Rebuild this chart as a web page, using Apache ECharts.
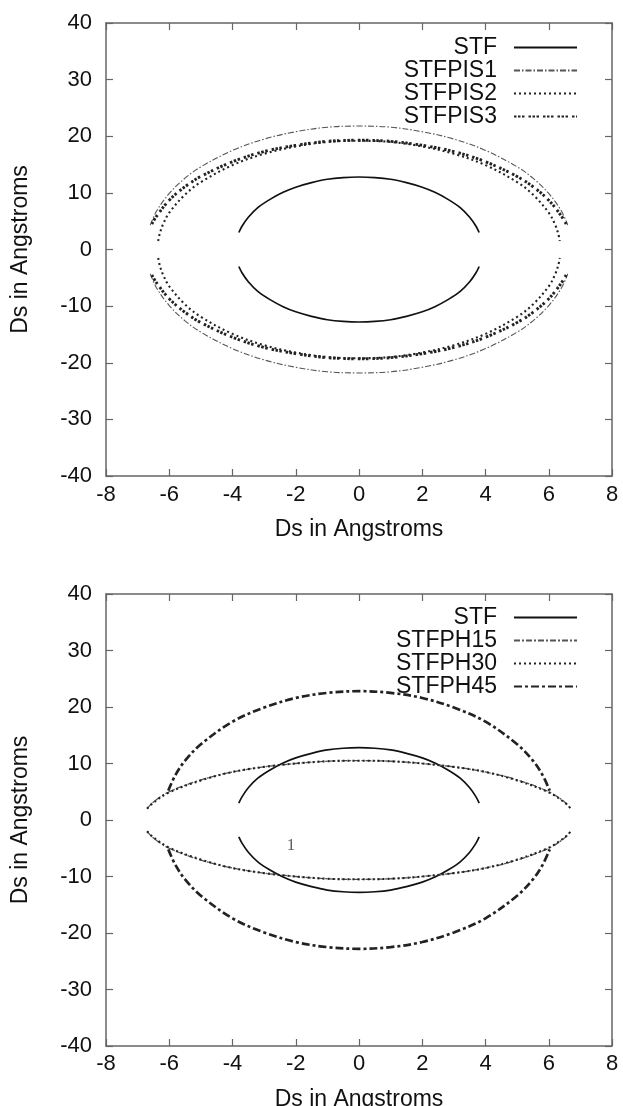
<!DOCTYPE html>
<html>
<head>
<meta charset="utf-8">
<script src="https://cdn.jsdelivr.net/npm/echarts@6/dist/echarts.min.js"></script>
<style>
html,body{margin:0;padding:0;background:#fff;}
#chart{width:623px;height:1106px;}
</style>
</head>
<body>
<div id="chart"></div>
<script>
// ---- data ----
const xTicks = [-8, -6, -4, -2, 0, 2, 4, 6, 8];
const yTicks = [-40, -30, -20, -10, 0, 10, 20, 30, 40];
const axisTitle = 'Ds in Angstroms';

const stfUpper = [[-3.8,3.0],[-3.7,4.1],[-3.5,5.7],[-3.2,7.4],[-2.8,8.9],[-2.4,10.1],[-2.0,11.0],[-1.5,11.8],[-1.0,12.4],[-0.5,12.7],[0,12.8],[0.5,12.7],[1.0,12.4],[1.5,11.8],[2.0,11.0],[2.4,10.1],[2.8,8.9],[3.2,7.4],[3.5,5.7],[3.7,4.1],[3.8,3.0]];
const stfLower = [[-3.8,-3.0],[-3.7,-4.1],[-3.5,-5.7],[-3.2,-7.4],[-2.8,-8.9],[-2.4,-10.1],[-2.0,-11.0],[-1.5,-11.8],[-1.0,-12.4],[-0.5,-12.7],[0,-12.8],[0.5,-12.7],[1.0,-12.4],[1.5,-11.8],[2.0,-11.0],[2.4,-10.1],[2.8,-8.9],[3.2,-7.4],[3.5,-5.7],[3.7,-4.1],[3.8,-3.0]];

const pis1Upper = [[-6.6,4.3],[-6.4,6.8],[-6.0,9.9],[-5.5,12.6],[-5.0,14.6],[-4.0,17.5],[-3.0,19.5],[-2.0,20.8],[-1.0,21.6],[0,21.8],[1.0,21.6],[2.0,20.8],[3.0,19.5],[4.0,17.5],[5.0,14.6],[5.5,12.6],[6.0,9.9],[6.4,6.8],[6.6,4.3]];
const pis1Lower = [[-6.6,-4.3],[-6.4,-6.8],[-6.0,-9.9],[-5.5,-12.6],[-5.0,-14.6],[-4.0,-17.5],[-3.0,-19.5],[-2.0,-20.8],[-1.0,-21.6],[0,-21.8],[1.0,-21.6],[2.0,-20.8],[3.0,-19.5],[4.0,-17.5],[5.0,-14.6],[5.5,-12.6],[6.0,-9.9],[6.4,-6.8],[6.6,-4.3]];

const pis2Upper = [[-6.35,1.5],[-6.3,2.8],[-6.2,4.4],[-6.0,6.5],[-5.5,9.7],[-5.0,11.9],[-4.0,14.9],[-3.0,16.9],[-2.0,18.2],[-1.0,19.0],[0,19.2],[1.0,19.0],[2.0,18.2],[3.0,16.9],[4.0,14.9],[5.0,11.9],[5.5,9.7],[6.0,6.5],[6.2,4.4],[6.3,2.8],[6.35,1.5]];
const pis2Lower = [[-6.35,-1.5],[-6.3,-2.8],[-6.2,-4.4],[-6.0,-6.5],[-5.5,-9.7],[-5.0,-11.9],[-4.0,-14.9],[-3.0,-16.9],[-2.0,-18.2],[-1.0,-19.0],[0,-19.2],[1.0,-19.0],[2.0,-18.2],[3.0,-16.9],[4.0,-14.9],[5.0,-11.9],[5.5,-9.7],[6.0,-6.5],[6.2,-4.4],[6.3,-2.8],[6.35,-1.5]];

const pis3Upper = [[-6.55,4.5],[-6.4,5.9],[-6.0,8.7],[-5.5,11.1],[-5.0,12.9],[-4.0,15.5],[-3.0,17.3],[-2.0,18.4],[-1.0,19.1],[0,19.3],[1.0,19.1],[2.0,18.4],[3.0,17.3],[4.0,15.5],[5.0,12.9],[5.5,11.1],[6.0,8.7],[6.4,5.9],[6.55,4.5]];
const pis3Lower = [[-6.55,-4.5],[-6.4,-5.9],[-6.0,-8.7],[-5.5,-11.1],[-5.0,-12.9],[-4.0,-15.5],[-3.0,-17.3],[-2.0,-18.4],[-1.0,-19.1],[0,-19.3],[1.0,-19.1],[2.0,-18.4],[3.0,-17.3],[4.0,-15.5],[5.0,-12.9],[5.5,-11.1],[6.0,-8.7],[6.4,-5.9],[6.55,-4.5]];

const ph15Upper = [[-6.7,2.0],[-6.5,3.2],[-6.0,5.0],[-5.0,7.1],[-4.0,8.5],[-3.0,9.4],[-2.0,10.0],[-1.0,10.4],[0,10.5],[1.0,10.4],[2.0,10.0],[3.0,9.4],[4.0,8.5],[5.0,7.1],[6.0,5.0],[6.5,3.2],[6.7,2.0]];
const ph15Lower = [[-6.7,-2.0],[-6.5,-3.2],[-6.0,-5.0],[-5.0,-7.1],[-4.0,-8.5],[-3.0,-9.4],[-2.0,-10.0],[-1.0,-10.4],[0,-10.5],[1.0,-10.4],[2.0,-10.0],[3.0,-9.4],[4.0,-8.5],[5.0,-7.1],[6.0,-5.0],[6.5,-3.2],[6.7,-2.0]];

const ph30Upper = [[-6.7,2.0],[-6.5,3.1],[-6.0,4.9],[-5.0,7.0],[-4.0,8.5],[-3.0,9.4],[-2.0,10.0],[-1.0,10.4],[0,10.5],[1.0,10.4],[2.0,10.0],[3.0,9.4],[4.0,8.5],[5.0,7.0],[6.0,4.9],[6.5,3.1],[6.7,2.0]];
const ph30Lower = [[-6.7,-2.0],[-6.5,-3.1],[-6.0,-4.9],[-5.0,-7.0],[-4.0,-8.5],[-3.0,-9.4],[-2.0,-10.0],[-1.0,-10.4],[0,-10.5],[1.0,-10.4],[2.0,-10.0],[3.0,-9.4],[4.0,-8.5],[5.0,-7.0],[6.0,-4.9],[6.5,-3.1],[6.7,-2.0]];

const ph45Upper = [[-6.03,5.2],[-5.8,8.0],[-5.5,10.5],[-5.0,13.4],[-4.0,17.4],[-3.0,19.9],[-2.0,21.6],[-1.0,22.5],[0,22.8],[1.0,22.5],[2.0,21.6],[3.0,19.9],[4.0,17.4],[5.0,13.4],[5.5,10.5],[5.8,8.0],[6.03,5.2]];
const ph45Lower = [[-6.03,-5.2],[-5.8,-8.0],[-5.5,-10.5],[-5.0,-13.4],[-4.0,-17.4],[-3.0,-19.9],[-2.0,-21.6],[-1.0,-22.5],[0,-22.8],[1.0,-22.5],[2.0,-21.6],[3.0,-19.9],[4.0,-17.4],[5.0,-13.4],[5.5,-10.5],[5.8,-8.0],[6.03,-5.2]];

const annotation = [[-2.15, -4.6]];
const annotationText = '1';

// ---- styles ----
const FONT = 'Liberation Sans, Arial, Helvetica, sans-serif';
const FS = 22;      // tick labels
const FS_T = 23;    // axis titles
const FS_L = 23;    // legend
const styles = {
  'STF':     {color:'#111', width:1.7, type:'solid'},
  'STFPIS1': {color:'#555', width:1.1, type:[6,2,1.5,2]},
  'STFPIS2': {color:'#222', width:2.1, type:[2,3]},
  'STFPIS3': {color:'#222', width:2.9, type:[2.5,1.5,2.5,1.5,2.5,4]},
  'STFPH15': {color:'#555', width:1.3, type:[6,2,2,2]},
  'STFPH30': {color:'#222', width:2.1, type:[2,3]},
  'STFPH45': {color:'#222', width:2.7, type:[8,3,3,3]}
};

function line(name, data, gi) {
  const s = styles[name];
  return {
    type:'line', name:name, data:data, xAxisIndex:gi*2, yAxisIndex:gi*2,
    smooth:0.35, symbol:'none', showSymbol:false, silent:true, animation:false,
    lineStyle:{color:s.color, width:s.width, type:s.type},
    itemStyle:{color:s.color}
  };
}

const grids = [
  {left:106, top:23, width:506, height:453, outerBoundsMode:'none', containLabel:false},
  {left:106, top:594, width:506, height:452, outerBoundsMode:'none', containLabel:false}
];
const labelMargins = [8, 7];
const titleGaps = [42, 42];

const xAxes = [], yAxes = [];
grids.forEach((g, i) => {
  const base = {
    type:'value', gridIndex:i, min:xTicks[0], max:xTicks[xTicks.length-1], interval:2,
    axisLine:{show:true, onZero:false, lineStyle:{color:'#666', width:1.5}},
    axisTick:{show:true, inside:true, length:7, lineStyle:{color:'#666', width:1.2}},
    splitLine:{show:false}
  };
  xAxes.push(Object.assign({}, base, {
    position:'bottom',
    axisLabel:{show:true, color:'#111', fontSize:FS, fontFamily:FONT, margin:labelMargins[i],
      formatter:v => String(v)},
    name:axisTitle, nameLocation:'middle', nameGap:titleGaps[i],
    nameTextStyle:{color:'#111', fontSize:FS_T, fontFamily:FONT}
  }));
  xAxes.push(Object.assign({}, base, {position:'top', axisLabel:{show:false}}));
  const ybase = {
    type:'value', gridIndex:i, min:yTicks[0], max:yTicks[yTicks.length-1], interval:10,
    axisLine:{show:true, onZero:false, lineStyle:{color:'#666', width:1.5}},
    axisTick:{show:true, inside:true, length:7, lineStyle:{color:'#666', width:1.2}},
    splitLine:{show:false}
  };
  yAxes.push(Object.assign({}, ybase, {
    position:'left',
    axisLabel:{show:true, color:'#111', fontSize:FS, fontFamily:FONT, margin:14,
      formatter:v => String(v)},
    name:axisTitle, nameLocation:'middle', nameGap:74,
    nameTextStyle:{color:'#111', fontSize:FS_T, fontFamily:FONT}
  }));
  yAxes.push(Object.assign({}, ybase, {position:'right', axisLabel:{show:false}}));
});

const series = [
  line('STF', stfUpper, 0), line('STF', stfLower, 0),
  line('STFPIS1', pis1Upper, 0), line('STFPIS1', pis1Lower, 0),
  line('STFPIS2', pis2Upper, 0), line('STFPIS2', pis2Lower, 0),
  line('STFPIS3', pis3Upper, 0), line('STFPIS3', pis3Lower, 0),
  line('STF', stfUpper, 1), line('STF', stfLower, 1),
  line('STFPH15', ph15Upper, 1), line('STFPH15', ph15Lower, 1),
  line('STFPH30', ph30Upper, 1), line('STFPH30', ph30Lower, 1),
  line('STFPH45', ph45Upper, 1), line('STFPH45', ph45Lower, 1),
  {
    type:'scatter', xAxisIndex:2, yAxisIndex:2, data:annotation, symbolSize:1,
    itemStyle:{color:'rgba(0,0,0,0)'}, silent:true, animation:false,
    label:{show:true, position:'inside', formatter:annotationText, color:'#333',
      fontFamily:'Liberation Serif, DejaVu Serif, serif', fontSize:17}
  }
];

function legend(names, top) {
  return {
    data:names, orient:'vertical', right:40, top:top, align:'right',
    itemWidth:63, itemHeight:14, itemGap:0, selectedMode:false,
    itemStyle:{opacity:0, borderWidth:0},
    textStyle:{color:'#111', fontSize:FS_L, fontFamily:FONT, lineHeight:22, padding:[0,12,0,0]},
    inactiveColor:'#111'
  };
}

const chart = echarts.init(document.getElementById('chart'), null, {renderer:'canvas'});
chart.setOption({
  backgroundColor:'#fff',
  animation:false,
  grid:grids,
  xAxis:xAxes,
  yAxis:yAxes,
  legend:[
    legend(['STF','STFPIS1','STFPIS2','STFPIS3'], 31),
    legend(['STF','STFPH15','STFPH30','STFPH45'], 601)
  ],
  series:series
});
</script>
</body>
</html>
